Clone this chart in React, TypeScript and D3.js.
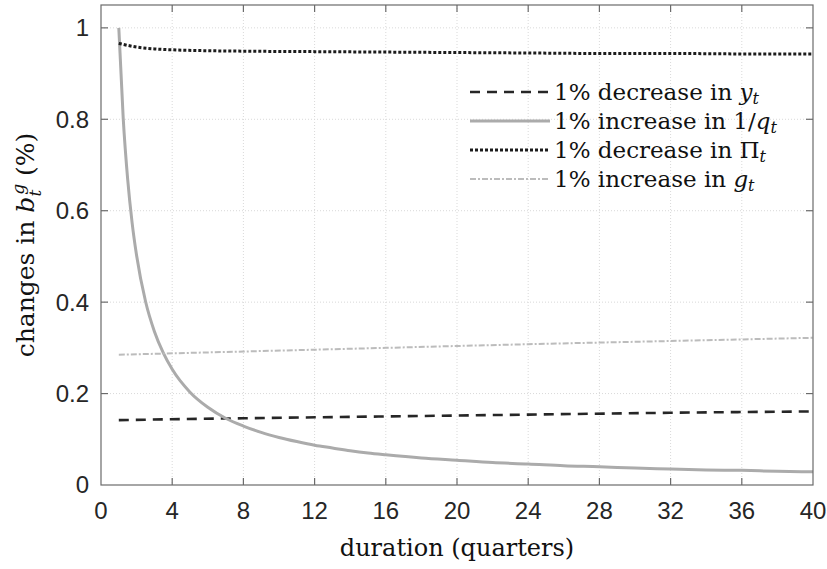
import React from "react";
import * as d3 from "d3";

const W = 827;
const H = 569;

// duration grid (quarters) for each series
const tQ = [1, 1.25, 1.5, 1.75, 2, 2.5, 3, 3.5, 4, 5, 6, 7, 8, 9, 10, 11, 12, 13, 14, 15, 16, 18, 20, 22, 24, 26, 28, 30, 32, 34, 36, 38, 40];
const qInv = [1.0, 0.801, 0.668, 0.573, 0.502, 0.402, 0.336, 0.289, 0.253, 0.203, 0.17, 0.146, 0.129, 0.115, 0.104, 0.095, 0.087, 0.081, 0.075, 0.07, 0.066, 0.059, 0.054, 0.049, 0.046, 0.042, 0.04, 0.037, 0.035, 0.033, 0.032, 0.03, 0.029];

const tPi = [1, 2, 3, 4, 6, 8, 12, 16, 20, 24, 28, 32, 36, 40];
const piVals = [0.966, 0.958, 0.954, 0.952, 0.95, 0.949, 0.948, 0.947, 0.946, 0.945, 0.944, 0.944, 0.943, 0.943];

const tLin = [1, 8, 16, 24, 32, 40];
const yVals = [0.142, 0.146, 0.15, 0.154, 0.158, 0.161];
const gVals = [0.285, 0.292, 0.3, 0.308, 0.315, 0.322];

const xTicks = [0, 4, 8, 12, 16, 20, 24, 28, 32, 36, 40];
const yTicks = [0, 0.2, 0.4, 0.6, 0.8, 1];
const yTickLabels = ["0", "0.2", "0.4", "0.6", "0.8", "1"];

const M = { left: 101, right: 813, top: 5, bottom: 485 };

type Series = {
  key: string;
  t: number[];
  v: number[];
  stroke: string;
  width: number;
  dash?: string;
  label: React.ReactNode;
};

export default function App() {
  const x = d3.scaleLinear().domain([0, 40]).range([M.left, M.right]);
  const y = d3.scaleLinear().domain([0, 1.05]).range([M.bottom, M.top]);

  const serif = "'DejaVu Serif', serif";
  const sans = "'Liberation Sans', Arial, sans-serif";

  const mk = (t: number[], v: number[]) =>
    d3
      .line<number>()
      .x((_, i) => x(t[i]))
      .y((d) => y(d))
      .curve(d3.curveMonotoneX)(v) || "";

  const sub = (s: string) => (
    <tspan baselineShift="-25%" fontSize="16" fontStyle="italic">{s}</tspan>
  );

  const series: Series[] = [
    {
      key: "y",
      t: tLin,
      v: yVals,
      stroke: "#262626",
      width: 2.6,
      dash: "10,7",
      label: (
        <>
          1% decrease in <tspan fontStyle="italic">y</tspan>
          {sub("t")}
        </>
      ),
    },
    {
      key: "q",
      t: tQ,
      v: qInv,
      stroke: "#ababab",
      width: 3,
      label: (
        <>
          1% increase in 1/<tspan fontStyle="italic">q</tspan>
          {sub("t")}
        </>
      ),
    },
    {
      key: "pi",
      t: tPi,
      v: piVals,
      stroke: "#1c1c1c",
      width: 3,
      dash: "3,2",
      label: (
        <>
          1% decrease in Π{sub("t")}
        </>
      ),
    },
    {
      key: "g",
      t: tLin,
      v: gVals,
      stroke: "#bcbcbc",
      width: 2,
      dash: "6,2,2,2",
      label: (
        <>
          1% increase in <tspan fontStyle="italic">g</tspan>
          {sub("t")}
        </>
      ),
    },
  ];

  const legendRows = [92, 121, 150, 179];

  return (
    <svg
      width={W}
      height={H}
      style={{ position: "absolute", left: 0, top: 0, background: "#fff" }}
    >
      <rect x={0} y={0} width={W} height={H} fill="#fff" />
      {/* grid */}
      <g stroke="#d9d9d9" strokeWidth={1} strokeDasharray="1,2">
        {xTicks.slice(1, -1).map((t) => (
          <line key={"gx" + t} x1={x(t)} x2={x(t)} y1={M.top} y2={M.bottom} />
        ))}
        {yTicks.slice(1).map((t) => (
          <line key={"gy" + t} x1={M.left} x2={M.right} y1={y(t)} y2={y(t)} />
        ))}
      </g>

      {/* series */}
      <g fill="none">
        {series.map((s) => (
          <path
            key={s.key}
            d={mk(s.t, s.v)}
            stroke={s.stroke}
            strokeWidth={s.width}
            strokeDasharray={s.dash}
          />
        ))}
      </g>

      {/* legend */}
      <g>
        {series.map((s, i) => (
          <g key={"lg" + s.key}>
            <line
              x1={470}
              x2={550}
              y1={legendRows[i]}
              y2={legendRows[i]}
              stroke={s.stroke}
              strokeWidth={s.width}
              strokeDasharray={s.dash}
            />
            <text
              x={554}
              y={legendRows[i]}
              dy="0.35em"
              fontFamily={serif}
              fontSize={23}
              fill="#111"
            >
              {s.label}
            </text>
          </g>
        ))}
      </g>

      {/* axes box */}
      <rect
        x={M.left}
        y={M.top}
        width={M.right - M.left}
        height={M.bottom - M.top}
        fill="none"
        stroke="#6b6b6b"
        strokeWidth={1.2}
      />
      <g stroke="#6b6b6b" strokeWidth={1.2}>
        {xTicks.slice(1, -1).map((t) => (
          <g key={"tx" + t}>
            <line x1={x(t)} x2={x(t)} y1={M.bottom} y2={M.bottom - 7} />
            <line x1={x(t)} x2={x(t)} y1={M.top} y2={M.top + 7} />
          </g>
        ))}
        {yTicks.slice(1).map((t) => (
          <g key={"ty" + t}>
            <line x1={M.left} x2={M.left + 7} y1={y(t)} y2={y(t)} />
            <line x1={M.right} x2={M.right - 7} y1={y(t)} y2={y(t)} />
          </g>
        ))}
      </g>

      {/* tick labels */}
      <g fontFamily={sans} fontSize={24} fill="#262626">
        {xTicks.map((t) => (
          <text key={"lx" + t} x={x(t)} y={M.bottom + 34} textAnchor="middle">
            {t}
          </text>
        ))}
        {yTicks.map((t, i) => (
          <text key={"ly" + t} x={M.left - 12} y={y(t)} dy="0.35em" textAnchor="end">
            {yTickLabels[i]}
          </text>
        ))}
      </g>

      {/* axis labels */}
      <text
        x={(M.left + M.right) / 2}
        y={556}
        textAnchor="middle"
        fontFamily={serif}
        fontSize={24}
        fill="#111"
      >
        duration (quarters)
      </text>
      <text
        transform={`translate(34, ${(M.top + M.bottom) / 2}) rotate(-90)`}
        textAnchor="middle"
        fontFamily={serif}
        fontSize={25}
        fill="#111"
      >
        changes in <tspan fontStyle="italic">b</tspan>
        <tspan fontSize="17" fontStyle="italic" dy="7">t</tspan>
        <tspan fontSize="17" fontStyle="italic" dx="-5" dy="-17">g</tspan>
        <tspan dy="10"> (%)</tspan>
      </text>
    </svg>
  );
}
